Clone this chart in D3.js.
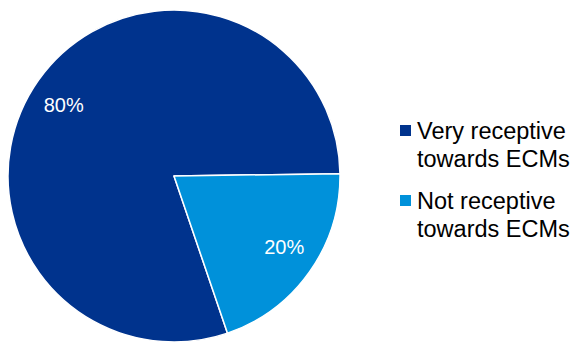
<!DOCTYPE html>
<html>
<head>
<meta charset="utf-8">
<script src="https://cdn.jsdelivr.net/npm/d3@7"></script>
<style>
  html, body { margin: 0; padding: 0; background: #fff; }
  svg { display: block; font-family: "Liberation Sans", Arial, sans-serif; }
</style>
</head>
<body>
<svg id="chart" width="575" height="343"></svg>
<script>
// Survey result: receptiveness towards ECMs
const categories = ["Very receptive towards ECMs", "Not receptive towards ECMs"];
const legendLines = [["Very receptive", "towards ECMs"], ["Not receptive", "towards ECMs"]];
const shares = [80, 20];
const colors = ["#00338D", "#0091DA"];

const svg = d3.select("#chart");
const cx = 174, cy = 176, radius = 166;
const deg = Math.PI / 180;

const pie = d3.pie()
  .sort(null)
  .value(d => d)
  .startAngle(161.2 * deg)
  .endAngle((161.2 + 360) * deg);

const arcs = pie(shares);
const arc = d3.arc().innerRadius(0).outerRadius(radius);

const g = svg.append("g").attr("transform", `translate(${cx},${cy})`);

g.selectAll("path.slice")
  .data(arcs)
  .join("path")
  .attr("class", "slice")
  .attr("d", arc)
  .attr("fill", (d, i) => colors[i])
  .attr("stroke", "#fff")
  .attr("stroke-width", 1.5)
  .attr("stroke-linejoin", "round");

// Percentage labels placed inside each slice
const labelR = 131;
const labelPos = d => {
  const a = (d.startAngle + d.endAngle) / 2 - 2.5 * deg;
  return [labelR * Math.sin(a), -labelR * Math.cos(a)];
};

g.selectAll("text.pct")
  .data(arcs)
  .join("text")
  .attr("class", "pct")
  .attr("x", d => labelPos(d)[0])
  .attr("y", d => labelPos(d)[1] + 7)
  .attr("text-anchor", "middle")
  .attr("fill", "#fff")
  .attr("font-size", 20)
  .text(d => d.data + "%");

// Legend
const legend = svg.append("g").attr("transform", "translate(400,125)");
const entry = legend.selectAll("g.entry")
  .data(categories)
  .join("g")
  .attr("class", "entry")
  .attr("transform", (d, i) => `translate(0,${i * 70})`);

entry.append("rect")
  .attr("width", 11)
  .attr("height", 11)
  .attr("fill", (d, i) => colors[i]);

entry.append("text")
  .attr("x", 17)
  .attr("y", 14)
  .attr("font-size", 23.5)
  .attr("fill", "#000")
  .selectAll("tspan")
  .data((d, i) => legendLines[i])
  .join("tspan")
  .attr("x", 17)
  .attr("dy", (d, j) => j === 0 ? 0 : 28)
  .text(d => d);
</script>
</body>
</html>
